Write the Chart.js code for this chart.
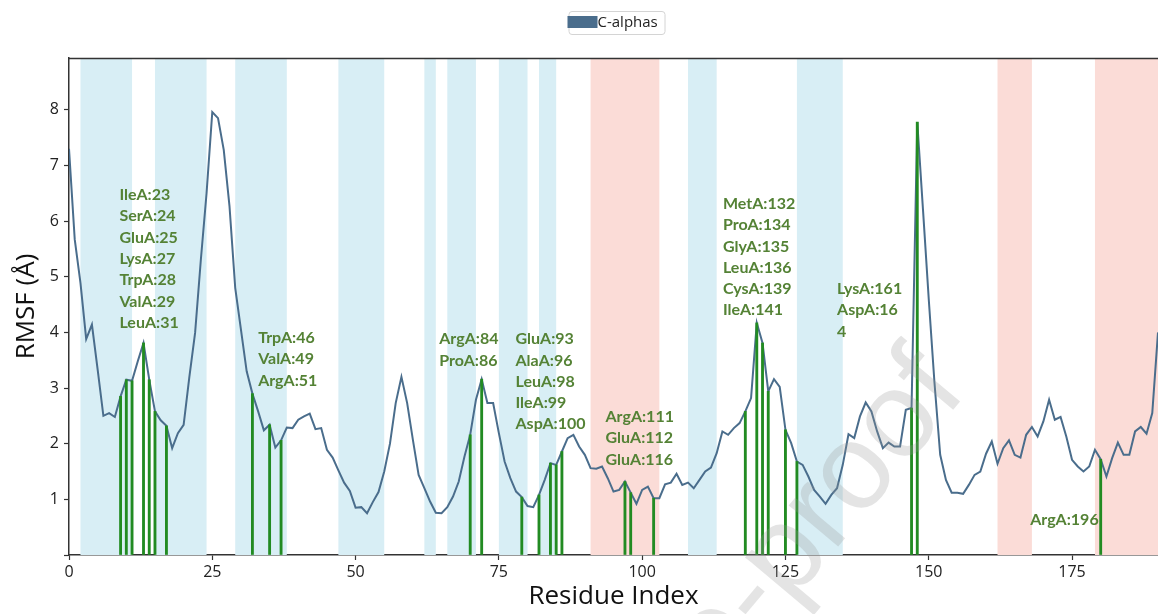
<!DOCTYPE html>
<html>
<head>
<meta charset="utf-8">
<script src="https://cdn.jsdelivr.net/npm/chart.js@4.4.1/dist/chart.umd.min.js"></script>
<style>
  html, body { margin: 0; padding: 0; background: #fff; }
  #wrap { width: 1158px; height: 614px; position: relative; }
</style>
</head>
<body>
<div id="wrap"><canvas id="rmsfChart"></canvas></div>
<script>
// RMSF per residue index (C-alphas)
const rmsf = [
  7.30, 5.67, 4.89, 3.88, 4.14, 3.33, 2.50, 2.55, 2.48, 2.85,
  3.15, 3.13, 3.48, 3.81, 3.15, 2.58, 2.42, 2.32, 1.92, 2.19,
  2.34, 3.20, 3.99, 5.30, 6.50, 7.96, 7.85, 7.28, 6.27, 4.80,
  4.05, 3.30, 2.90, 2.58, 2.24, 2.34, 1.93, 2.06, 2.29, 2.28,
  2.43, 2.49, 2.54, 2.26, 2.28, 1.89, 1.75, 1.52, 1.30, 1.15,
  0.85, 0.86, 0.75, 0.95, 1.13, 1.50, 2.00, 2.73, 3.20, 2.73,
  2.07, 1.44, 1.20, 0.96, 0.76, 0.75, 0.86, 1.05, 1.32, 1.77,
  2.16, 2.79, 3.16, 2.73, 2.73, 2.19, 1.68, 1.38, 1.14, 1.04,
  0.88, 0.86, 1.08, 1.35, 1.65, 1.62, 1.86, 2.10, 2.16, 1.95,
  1.80, 1.56, 1.55, 1.59, 1.38, 1.14, 1.17, 1.32, 1.12, 0.92,
  1.17, 1.23, 1.02, 1.02, 1.27, 1.30, 1.46, 1.26, 1.30, 1.20,
  1.35, 1.50, 1.57, 1.83, 2.22, 2.16, 2.28, 2.37, 2.58, 2.82,
  4.17, 3.81, 2.94, 3.16, 3.02, 2.25, 2.01, 1.68, 1.62, 1.41,
  1.17, 1.05, 0.92, 1.08, 1.20, 1.62, 2.17, 2.10, 2.49, 2.74,
  2.58, 2.22, 1.92, 2.02, 1.95, 1.95, 2.61, 2.64, 7.78, 6.20,
  4.60, 3.10, 1.80, 1.35, 1.12, 1.12, 1.10, 1.26, 1.44, 1.50,
  1.82, 2.04, 1.64, 1.92, 2.06, 1.80, 1.75, 2.16, 2.30, 2.13,
  2.40, 2.79, 2.43, 2.48, 2.13, 1.71, 1.59, 1.50, 1.59, 1.89,
  1.72, 1.41, 1.74, 2.02, 1.80, 1.80, 2.22, 2.30, 2.18, 2.55,
  4.00, 5.60
];

// residues marked with green drop lines
const contactIdx = [9, 10, 11, 13, 14, 15, 17, 32, 35, 37, 70, 72, 79, 82, 84, 85, 86,
  97, 98, 102, 118, 120, 121, 122, 125, 127, 147, 148, 180];

// secondary structure spans [start, end]
const helixSpans = [[2, 11], [15, 24], [29, 38], [47, 55], [62, 64], [66, 71], [75, 80], [82, 85], [108, 113], [127, 135]];
const strandSpans = [[91, 103], [162, 168], [179, 192]];

// label groups, anchored at (residue index, RMSF) of the first line
const labelAnchors = [[8.8, 6.47], [33.0, 3.9], [64.6, 3.88], [77.9, 3.88], [93.6, 2.48], [114.1, 6.31], [134.0, 4.78], [167.7, 0.63]];
const labelTexts = [
  ['IleA:23', 'SerA:24', 'GluA:25', 'LysA:27', 'TrpA:28', 'ValA:29', 'LeuA:31'],
  ['TrpA:46', 'ValA:49', 'ArgA:51'],
  ['ArgA:84', 'ProA:86'],
  ['GluA:93', 'AlaA:96', 'LeuA:98', 'IleA:99', 'AspA:100'],
  ['ArgA:111', 'GluA:112', 'GluA:116'],
  ['MetA:132', 'ProA:134', 'GlyA:135', 'LeuA:136', 'CysA:139', 'IleA:141'],
  ['LysA:161', 'AspA:16', '4'],
  ['ArgA:196']
];

const xStep = 25;
const yStep = 1;

const lineColor = '#4a6d8c';
const axisColor = '#333';

const bandsPlugin = {
  id: 'bands',
  beforeDatasetsDraw(chart) {
    const { ctx, chartArea: a, scales: { x } } = chart;
    ctx.save();
    ctx.beginPath();
    ctx.rect(a.left, a.top, a.right - a.left, a.bottom - a.top);
    ctx.clip();
    const fill = (spans, col) => {
      ctx.fillStyle = col;
      spans.forEach(s => {
        const x0 = x.getPixelForValue(s[0]), x1 = x.getPixelForValue(s[1]);
        ctx.fillRect(x0, a.top, x1 - x0, a.bottom - a.top);
      });
    };
    fill(helixSpans, '#d8eef5');
    fill(strandSpans, '#fbdcd7');
    ctx.restore();
  }
};

const decorPlugin = {
  id: 'decor',
  afterDatasetsDraw(chart) {
    const { ctx, chartArea: a, scales: { x, y } } = chart;
    ctx.save();
    // top spine
    ctx.strokeStyle = axisColor;
    ctx.lineWidth = 1.5;
    ctx.beginPath();
    ctx.moveTo(a.left, a.top + 0.5);
    ctx.lineTo(a.right, a.top + 0.5);
    ctx.stroke();

    // residue labels
    ctx.fillStyle = '#548235';
    ctx.font = 'bold 16px Lato';
    ctx.textAlign = 'left';
    ctx.textBaseline = 'middle';
    labelAnchors.forEach((p, k) => {
      const px = x.getPixelForValue(p[0]), py = y.getPixelForValue(p[1]);
      labelTexts[k].forEach((t, j) => ctx.fillText(t, px, py + j * 21.3));
    });

    // legend
    const cx = (a.left + a.right) / 2;
    ctx.strokeStyle = '#d4d4d4';
    ctx.lineWidth = 1;
    ctx.beginPath();
    ctx.roundRect(cx - 44.5, 11.5, 96, 23, 3);
    ctx.stroke();
    ctx.fillStyle = lineColor;
    ctx.fillRect(cx - 46, 16, 30, 12);
    ctx.fillStyle = '#222';
    ctx.font = '15px "Open Sans"';
    ctx.textBaseline = 'middle';
    ctx.fillText('C-alphas', cx - 16, 22.5);
    ctx.restore();
  },
  afterDraw(chart) {
    // faint "pre-proof" watermark
    const { ctx } = chart;
    ctx.save();
    ctx.translate(968, 392);
    ctx.rotate(-50 * Math.PI / 180);
    ctx.fillStyle = 'rgba(150,150,150,0.26)';
    ctx.font = '122px "Liberation Sans"';
    ctx.textAlign = 'right';
    ctx.textBaseline = 'alphabetic';
    ctx.fillText('Journal Pre-proof', 0, 0);
    ctx.restore();
  }
};

new Chart(document.getElementById('rmsfChart'), {
  type: 'line',
  data: {
    datasets: [
      {
        type: 'bar',
        label: 'contacts',
        data: contactIdx.map(i => ({ x: i, y: rmsf[i] })),
        backgroundColor: '#228b22',
        barThickness: 2.2,
        order: 0
      },
      {
        label: 'C-alphas',
        data: rmsf.map((v, i) => ({ x: i, y: v })),
        borderColor: lineColor,
        backgroundColor: lineColor,
        borderWidth: 2,
        pointRadius: 0,
        tension: 0,
        order: 1
      }
    ]
  },
  options: {
    responsive: true,
    maintainAspectRatio: false,
    animation: false,
    layout: { padding: { top: 58, right: 0, bottom: 0, left: 0 } },
    plugins: { legend: { display: false }, tooltip: { enabled: false } },
    scales: {
      x: {
        type: 'linear',
        min: 0,
        max: 190,
        offset: false,
        afterFit: s => { s.height = 59; },
        ticks: { stepSize: xStep, includeBounds: false, autoSkip: false, color: '#222', font: { family: 'Open Sans', size: 16 }, padding: 3, maxRotation: 0 },
        grid: { offset: false, drawOnChartArea: false, tickLength: 5, color: axisColor, tickWidth: 1.2 },
        border: { color: axisColor, width: 1.5 },
        title: { display: true, text: 'Residue Index', color: '#111', font: { family: 'Open Sans', size: 26 }, padding: { top: 0, bottom: 2 } }
      },
      y: {
        min: 0,
        max: 8.93,
        afterFit: s => { s.width = 69; },
        ticks: { stepSize: yStep, includeBounds: false, autoSkip: false, color: '#222', font: { family: 'Open Sans', size: 16 }, padding: 5,
          callback: v => (v === 0 ? '' : v) },
        grid: { drawOnChartArea: false, tickLength: 5, color: axisColor, tickWidth: 1.2 },
        border: { color: axisColor, width: 1.5 },
        title: { display: true, text: 'RMSF (Å)', color: '#111', font: { family: 'Open Sans', size: 26 }, padding: { top: 11, bottom: 0 } }
      }
    }
  },
  plugins: [bandsPlugin, decorPlugin]
});
</script>
</body>
</html>
